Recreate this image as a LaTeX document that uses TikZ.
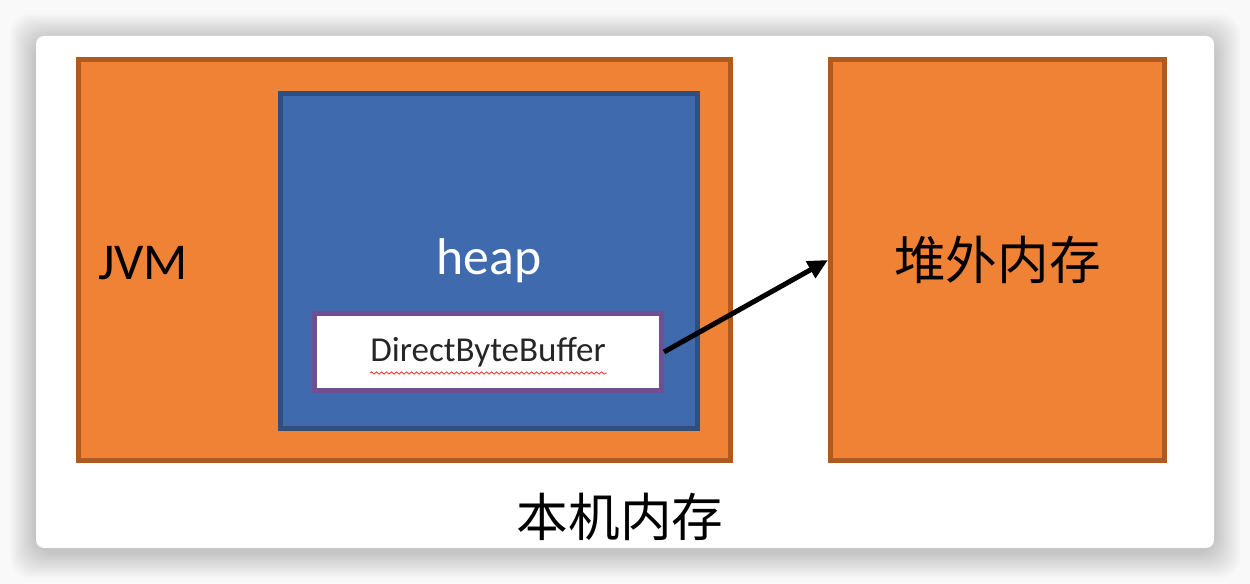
\documentclass[tikz,border=0pt]{standalone}
\usepackage{fontspec}
\setmainfont{Carlito}
\newfontfamily\cjk{Noto Sans CJK SC}
\usetikzlibrary{arrows.meta,decorations.pathmorphing}
\definecolor{memorange}{HTML}{F08236}
\definecolor{memedge}{HTML}{AE5A21}
\definecolor{heapblue}{HTML}{3F6BAE}
\definecolor{heapedge}{HTML}{2F4F80}
\definecolor{bufedge}{HTML}{6F4E92}
\tikzset{
  membox/.style = {draw = memedge, fill = memorange, line width = 3.2pt, inner sep = 0pt},
  heapbox/.style = {draw = heapedge, fill = heapblue, line width = 3.2pt, inner sep = 0pt},
  bufbox/.style = {draw = bufedge, fill = white, line width = 3pt, inner sep = 0pt}
}

\begin{document}
\begin{tikzpicture}[x = 0.6pt, y = -0.6pt]
\useasboundingbox (0, 0) rectangle (1250, 584);
\fill[gray!5] (0, 0) rectangle (1250, 584);
\foreach \s in {2, 4, ..., 26}
  \fill[black, opacity = 0.015, rounded corners = 12pt] (36 - \s, 40 - \s) rectangle (1214 + \s, 552 + \s);
\fill[white, rounded corners = 4.8pt] (36, 36) rectangle (1214, 548);

\node[membox, minimum width = 391pt, minimum height = 240.4pt] (jvm) at (404.5, 260) {};
\node[heapbox, minimum width = 250pt, minimum height = 200.8pt, text = white, font = \fontsize{31}{36}\selectfont] (heap) at (489, 261) {heap};
\node[bufbox, minimum width = 208.2pt, minimum height = 46.2pt, text = black!85, font = \fontsize{21}{25}\selectfont] (dbb) at (488, 352) {DirectByteBuffer};
\node[membox, minimum width = 200.2pt, minimum height = 240.4pt, font = \cjk\fontsize{31}{36}\selectfont] (offheap) at (997.5, 260) {堆外内存};

\node[font = \fontsize{31}{36}\selectfont] (jvmlabel) at (143, 263) {JVM};
\node[font = \cjk\fontsize{31}{36}\selectfont] (native) at (620, 517) {本机内存};

\draw[red!80, line width = 0.5pt, decorate, decoration = {snake, amplitude = 0.7pt, segment length = 3pt}] (370, 373) -- (607, 373);

\draw[line width = 3pt, -{Triangle[length = 12pt, width = 11pt]}] (dbb.east) -- (offheap.west);
\end{tikzpicture}
\end{document}
